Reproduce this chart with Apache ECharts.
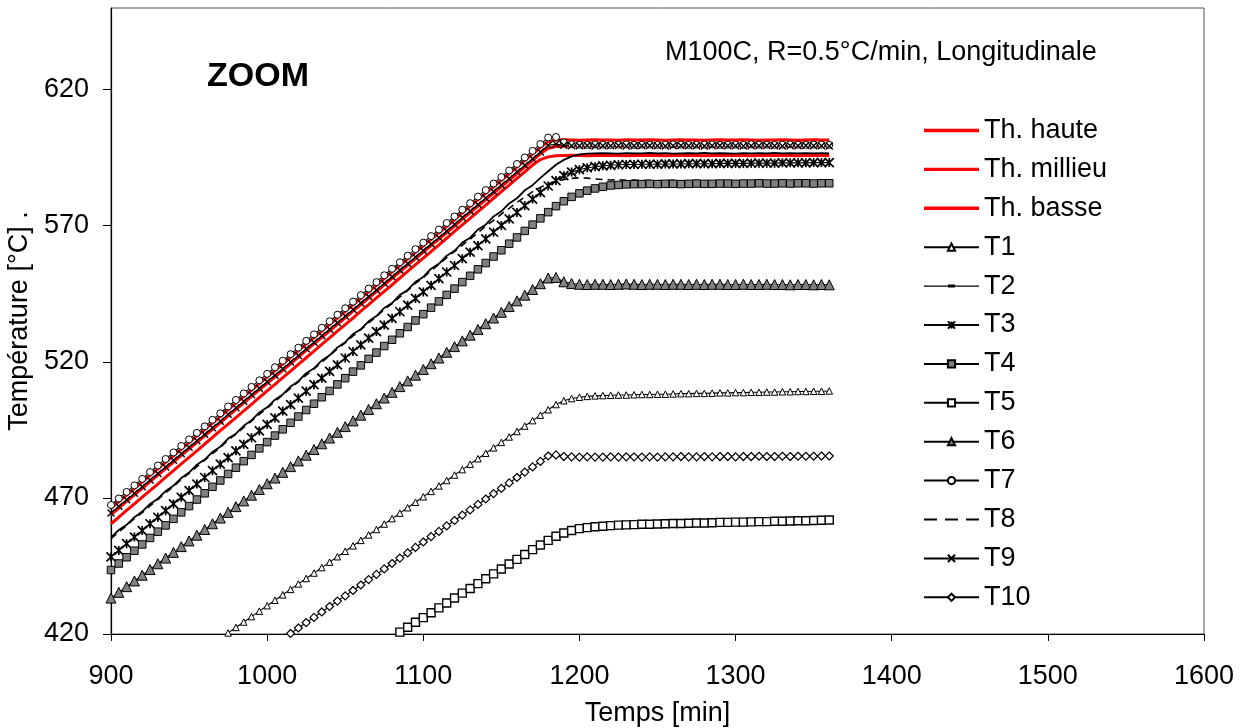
<!DOCTYPE html>
<html><head><meta charset="utf-8">
<script src="https://cdn.jsdelivr.net/npm/echarts@6/dist/echarts.min.js"></script>
<style>html,body{margin:0;padding:0;background:#fff}#c{width:1246px;height:728px}</style>
</head><body><div id="c"></div>
<script>
const times = [900,905,910,915,920,925,930,935,940,945,
950,955,960,965,970,975,980,985,990,995,
1000,1005,1010,1015,1020,1025,1030,1035,1040,1045,
1050,1055,1060,1065,1070,1075,1080,1085,1090,1095,
1100,1105,1110,1115,1120,1125,1130,1135,1140,1145,
1150,1155,1160,1165,1170,1175,1180,1185,1190,1195,
1200,1205,1210,1215,1220,1225,1230,1235,1240,1245,
1250,1255,1260,1265,1270,1275,1280,1285,1290,1295,
1300,1305,1310,1315,1320,1325,1330,1335,1340,1345,
1350,1355,1360];
const xTicks = [900,1000,1100,1200,1300,1400,1500,1600];
const yTicks = [420,470,520,570,620];

const thHaute = [466.2,468.6,471.0,473.4,475.8,478.3,480.7,483.1,485.5,487.9,
490.3,492.7,495.1,497.5,499.9,502.4,504.8,507.2,509.6,512.0,
514.4,516.8,519.2,521.6,524.0,526.5,528.9,531.3,533.7,536.1,
538.5,540.9,543.3,545.7,548.1,550.6,553.0,555.4,557.8,560.2,
562.6,565.0,567.4,569.8,572.2,574.7,577.1,579.5,581.9,584.3,
586.7,589.1,591.5,593.9,596.3,598.8,600.9,601.5,601.6,601.5,
601.4,601.5,601.6,601.5,601.5,601.4,601.6,601.5,601.5,601.6,
601.5,601.4,601.5,601.6,601.5,601.5,601.4,601.5,601.6,601.5,
601.5,601.6,601.5,601.4,601.5,601.5,601.6,601.5,601.4,601.5,
601.6,601.5,601.5];
const thMillieu = [463.9,466.3,468.7,471.1,473.5,476.0,478.4,480.8,483.2,485.6,
488.0,490.4,492.8,495.2,497.6,500.1,502.5,504.9,507.3,509.7,
512.1,514.5,516.9,519.3,521.7,524.2,526.6,529.0,531.4,533.8,
536.2,538.6,541.0,543.4,545.8,548.3,550.7,553.1,555.5,557.9,
560.3,562.7,565.1,567.5,569.9,572.4,574.8,577.2,579.6,582.0,
584.4,586.8,589.2,591.6,594.0,596.4,598.5,599.1,599.2,599.3,
599.3,599.2,599.3,599.4,599.3,599.3,599.2,599.3,599.4,599.3,
599.3,599.2,599.3,599.3,599.4,599.3,599.2,599.3,599.3,599.4,
599.3,599.3,599.2,599.3,599.4,599.3,599.3,599.2,599.3,599.3,
599.4,599.3,599.3];
const thBasse = [460.5,462.9,465.4,467.8,470.3,472.7,475.1,477.6,480.0,482.5,
484.9,487.3,489.8,492.2,494.7,497.1,499.5,502.0,504.4,506.9,
509.3,511.7,514.2,516.6,519.1,521.5,523.9,526.4,528.8,531.3,
533.7,536.1,538.6,541.0,543.5,545.9,548.3,550.8,553.2,555.7,
558.1,560.5,563.0,565.4,567.9,570.3,572.7,575.2,577.6,580.1,
582.5,584.9,587.4,589.8,592.3,594.3,595.3,595.7,595.8,595.9,
595.8,595.7,595.8,595.9,595.8,595.8,595.7,595.8,595.9,595.8,
595.8,595.7,595.8,595.8,595.9,595.8,595.7,595.8,595.8,595.9,
595.8,595.8,595.7,595.8,595.8,595.9,595.8,595.8,595.7,595.8,
595.8,595.9,595.8];
const t1 = [null,null,null,null,null,null,null,null,null,null,
null,null,null,null,418.4,420.4,422.4,424.4,426.4,428.4,
430.4,432.4,434.4,436.4,438.4,440.4,442.4,444.4,446.4,448.4,
450.4,452.4,454.4,456.4,458.4,460.4,462.4,464.4,466.4,468.4,
470.4,472.4,474.4,476.4,478.4,480.4,482.4,484.4,486.4,488.4,
490.4,492.4,494.4,496.4,498.4,500.4,502.4,504.3,505.7,506.5,
507.0,507.3,507.5,507.6,507.7,507.8,507.8,507.9,508.0,508.0,
508.1,508.1,508.2,508.3,508.3,508.4,508.4,508.5,508.6,508.6,
508.7,508.7,508.8,508.8,508.9,508.9,509.0,509.0,509.1,509.1,
509.2,509.2,509.3];
const t2 = [455.5,458.2,460.1,462.9,465.0,467.8,469.7,472.5,474.5,477.3,
479.3,482.2,484.1,486.9,488.8,491.8,493.6,496.5,498.5,501.4,
503.3,506.1,508.0,510.9,512.9,515.8,517.6,520.5,522.4,525.3,
527.2,530.2,532.0,534.9,536.8,539.8,541.6,544.6,546.4,549.4,
551.2,554.2,556.0,559.0,560.8,563.8,565.6,568.6,570.4,573.4,
575.3,578.2,580.1,583.0,584.9,587.6,590.0,592.4,594.2,595.5,
596.2,596.5,596.6,596.7,596.6,596.5,596.7,596.6,596.6,596.8,
596.6,596.7,596.5,596.6,596.7,596.6,596.8,596.6,596.7,596.6,
596.5,596.7,596.6,596.7,596.6,596.8,596.6,596.7,596.6,596.7,
596.6,596.7,596.6];
const t3 = [448.3,450.7,453.2,455.6,458.0,460.5,462.9,465.3,467.8,470.2,
472.7,475.1,477.5,480.0,482.4,484.8,487.3,489.7,492.1,494.6,
497.0,499.4,501.9,504.3,506.7,509.2,511.6,514.0,516.5,518.9,
521.4,523.8,526.2,528.7,531.1,533.5,536.0,538.4,540.8,543.3,
545.7,548.1,550.6,553.0,555.4,557.9,560.3,562.7,565.2,567.6,
570.1,572.5,574.9,577.4,579.8,582.2,584.6,586.6,588.4,589.7,
590.6,591.3,591.7,592.0,592.2,592.4,592.5,592.5,592.6,592.6,
592.6,592.7,592.7,592.7,592.8,592.8,592.8,592.8,592.9,592.9,
592.9,592.9,593.0,593.0,593.0,593.0,593.1,593.1,593.1,593.1,
593.2,593.2,593.2];
const t4 = [443.5,445.9,448.2,450.6,452.9,455.3,457.6,459.9,462.3,464.7,
467.0,469.4,471.7,474.1,476.4,478.8,481.1,483.5,485.8,488.2,
490.5,492.9,495.2,497.6,499.9,502.3,504.6,507.0,509.3,511.7,
514.0,516.4,518.7,521.1,523.4,525.8,528.1,530.5,532.8,535.2,
537.5,539.9,542.2,544.6,546.9,549.3,551.6,554.0,556.3,558.7,
561.0,563.4,565.7,568.1,570.4,572.7,575.0,577.2,579.0,580.6,
581.9,582.9,583.7,584.3,584.8,585.0,585.2,585.3,585.3,585.4,
585.3,585.4,585.4,585.3,585.4,585.5,585.4,585.4,585.5,585.5,
585.4,585.5,585.5,585.6,585.5,585.5,585.6,585.5,585.6,585.6,
585.5,585.6,585.6];
const t5 = [null,null,null,null,null,null,null,null,null,null,
null,null,null,null,null,null,null,null,null,null,
null,null,null,null,null,null,null,null,null,null,
null,null,null,null,null,null,418.9,420.7,422.5,424.3,
426.0,427.8,429.6,431.4,433.2,435.0,436.7,438.5,440.3,442.1,
443.9,445.7,447.4,449.2,451.0,452.7,454.4,455.9,457.1,458.0,
458.7,459.1,459.4,459.6,459.8,460.0,460.1,460.2,460.3,460.3,
460.4,460.5,460.6,460.6,460.7,460.8,460.8,460.9,461.0,461.0,
461.1,461.1,461.2,461.3,461.3,461.4,461.4,461.5,461.6,461.6,
461.7,461.8,461.9];
const t6 = [433.2,435.3,437.4,439.5,441.6,443.7,445.8,447.9,450.0,452.1,
454.2,456.3,458.4,460.5,462.6,464.7,466.8,468.9,471.0,473.1,
475.2,477.3,479.4,481.5,483.6,485.7,487.8,489.9,492.0,494.1,
496.2,498.3,500.4,502.5,504.6,506.7,508.8,510.9,513.0,515.1,
517.2,519.3,521.4,523.5,525.6,527.7,529.8,531.9,534.0,536.1,
538.2,540.3,542.4,544.5,546.6,548.7,550.8,551.0,549.4,548.8,
548.5,548.4,548.5,548.5,548.4,548.5,548.6,548.5,548.4,548.5,
548.5,548.4,548.5,548.5,548.4,548.5,548.4,548.5,548.5,548.4,
548.4,548.5,548.4,548.4,548.5,548.4,548.4,548.3,548.4,548.4,
548.3,548.4,548.3];
const t7 = [467.4,469.8,472.2,474.6,477.0,479.5,481.9,484.3,486.7,489.1,
491.5,493.9,496.3,498.7,501.1,503.6,506.0,508.4,510.8,513.2,
515.6,518.0,520.4,522.8,525.2,527.7,530.1,532.5,534.9,537.3,
539.7,542.1,544.5,546.9,549.3,551.8,554.2,556.6,559.0,561.4,
563.8,566.2,568.6,571.0,573.4,575.9,578.3,580.7,583.1,585.5,
587.9,590.3,592.7,595.1,597.5,600.0,602.4,602.6,600.6,599.9,
599.8,599.7,599.9,599.8,599.7,599.8,599.9,599.7,599.8,599.8,
599.7,599.8,599.9,599.8,599.7,599.8,599.8,599.9,599.7,599.8,
599.8,599.7,599.9,599.8,599.8,599.7,599.8,599.9,599.8,599.7,
599.8,599.8,599.7];
const t8 = [455.0,457.6,459.8,462.4,464.6,467.1,469.4,471.9,474.2,476.8,
479.0,481.5,483.8,486.3,488.6,491.2,493.4,495.9,498.2,500.7,
503.0,505.5,507.8,510.3,512.6,515.1,517.4,519.9,522.2,524.8,
527.0,529.5,531.8,534.3,536.6,539.2,541.4,543.9,546.2,548.8,
551.0,553.5,555.8,558.3,560.5,562.9,565.1,567.4,569.9,572.0,
574.3,576.4,578.6,580.5,582.5,584.1,585.4,586.3,587.0,587.4,
587.6,587.5,587.2,587.0,586.8,586.9,586.7,586.8,586.6,586.7,
586.5,586.6,586.7,586.5,586.4,586.6,586.5,586.4,586.5,586.3,
586.4,586.5,586.3,586.4,586.2,586.4,586.3,586.2,586.3,586.2,
586.3,586.2,586.2];
const t9 = [464.5,466.9,469.3,471.7,474.1,476.6,479.0,481.4,483.8,486.2,
488.6,491.0,493.4,495.8,498.2,500.7,503.1,505.5,507.9,510.3,
512.7,515.1,517.5,519.9,522.3,524.8,527.2,529.6,532.0,534.4,
536.8,539.2,541.6,544.0,546.4,548.9,551.3,553.7,556.1,558.5,
560.9,563.3,565.7,568.1,570.5,573.0,575.4,577.8,580.2,582.6,
585.0,587.4,589.8,592.2,594.6,597.1,599.6,600.0,599.6,599.4,
599.4,599.5,599.3,599.4,599.4,599.5,599.3,599.4,599.4,599.5,
599.4,599.3,599.4,599.5,599.4,599.4,599.3,599.4,599.5,599.4,
599.4,599.3,599.4,599.4,599.5,599.4,599.3,599.4,599.4,599.5,
599.4,599.4,599.3];
const t10 = [null,null,null,null,null,null,null,null,null,null,
null,null,null,null,null,null,null,null,null,null,
null,null,418.2,420.2,422.2,424.2,426.1,428.1,430.1,432.1,
434.0,436.0,438.0,440.0,441.9,443.9,445.9,447.9,449.8,451.8,
453.8,455.8,457.7,459.7,461.7,463.7,465.6,467.6,469.6,471.6,
473.5,475.5,477.5,479.5,481.4,483.4,485.4,485.8,485.2,485.1,
485.0,485.1,485.0,485.0,485.1,485.0,485.1,485.1,485.0,485.1,
485.0,485.1,485.1,485.2,485.1,485.1,485.2,485.1,485.2,485.2,
485.1,485.2,485.2,485.3,485.2,485.2,485.3,485.2,485.3,485.3,
485.3,485.4,485.4];

const FONT = '"Liberation Sans", Arial, sans-serif';
const FS = 27;

function pairs(vals) {
  const out = [];
  for (let i = 0; i < vals.length && i < times.length; i++) {
    if (vals[i] !== null) out.push([times[i], vals[i]]);
  }
  return out;
}
const ASTER = 'path://M0,0L10,10M10,0L0,10M5,0L5,10';
const XMARK = 'path://M0,0L10,10M10,0L0,10';

function red(name, vals) {
  return { name, type: 'line', data: pairs(vals), symbol: 'none', clip: true,
    lineStyle: { color: '#ff0000', width: 3 }, itemStyle: { color: '#ff0000', borderWidth: 0 } };
}
function blk(name, vals, symbol, size, fill, opts) {
  opts = opts || {};
  return { name, type: 'line', data: pairs(vals), clip: true,
    symbol: symbol, symbolSize: size, showSymbol: symbol !== 'none',
    lineStyle: { color: '#000', width: opts.lw || 1.1, type: opts.dash ? [7, 5] : 'solid' },
    itemStyle: { color: fill, borderColor: '#000', borderWidth: opts.bw === undefined ? 1 : opts.bw } };
}

const series = [
  red('Th. haute', thHaute),
  red('Th. millieu', thMillieu),
  red('Th. basse', thBasse),
  blk('T1', t1, 'triangle', 6.5, '#fff'),
  blk('T2', t2, 'none', 0, '#000', { lw: 1.8, bw: 0 }),
  blk('T3', t3, ASTER, 9, '#000', { bw: 1.7 }),
  blk('T4', t4, 'rect', 7.5, '#808080'),
  blk('T5', t5, 'rect', 8, '#fff', { bw: 1.4 }),
  blk('T6', t6, 'triangle', 10, '#808080'),
  blk('T7', t7, 'circle', 7, '#fff'),
  blk('T8', t8, 'none', 0, '#000', { lw: 1.6, dash: true, bw: 0 }),
  blk('T9', t9, XMARK, 7, '#000', { bw: 1.4 }),
  blk('T10', t10, 'diamond', 8, '#fff', { bw: 1.2 })
];

const legendData = series.map(s => {
  if (s.name.indexOf('Th.') === 0) return { name: s.name, icon: 'path://M0,0L55,0L55,3.4L0,3.4Z', itemStyle: { borderWidth: 0 } };
  if (s.name === 'T2') return { name: s.name, icon: 'path://M0,0.8L55,0.8L55,2.2L0,2.2Z M24,0L31,0L31,3L24,3Z', itemStyle: { borderWidth: 0 } };
  if (s.name === 'T8') return { name: s.name, icon: 'path://M0,0L13,0L13,2L0,2Z M21,0L34,0L34,2L21,2Z M42,0L55,0L55,2L42,2Z', itemStyle: { borderWidth: 0 } };
  return { name: s.name };
});

const chart = echarts.init(document.getElementById('c'), null, { renderer: 'canvas' });
chart.setOption({
  animation: false,
  backgroundColor: '#fff',
  textStyle: { fontFamily: FONT, color: '#000' },
  grid: { left: 111, right: 42, top: 8, bottom: 94, show: true, borderColor: '#555', borderWidth: 1,
    backgroundColor: 'transparent', containLabel: false, outerBoundsMode: 'none' },
  xAxis: {
    type: 'value', min: xTicks[0], max: xTicks[xTicks.length - 1], interval: 100,
    name: 'Temps [min]', nameLocation: 'middle', nameGap: 66,
    nameTextStyle: { fontSize: FS, color: '#000', fontFamily: FONT },
    axisLine: { lineStyle: { color: '#000', width: 1.2 } },
    axisTick: { inside: false, length: 7, lineStyle: { color: '#000' } },
    axisLabel: { fontSize: FS, color: '#000', margin: 29, fontFamily: FONT, formatter: v => String(v) },
    splitLine: { show: false }
  },
  yAxis: {
    type: 'value', min: 420, max: 650,
    name: 'Température [°C] .', nameLocation: 'middle', nameGap: 72,
    nameTextStyle: { fontSize: FS, color: '#000', fontFamily: FONT },
    axisLine: { show: true, lineStyle: { color: '#000', width: 1.2 } },
    axisTick: { show: true, inside: false, length: 8, customValues: yTicks, lineStyle: { color: '#000' } },
    axisLabel: { fontSize: FS, color: '#000', margin: 22, customValues: yTicks, fontFamily: FONT, formatter: v => String(v) },
    splitLine: { show: false }
  },
  legend: {
    orient: 'vertical', left: 923, top: 117, padding: 0,
    itemWidth: 55, itemHeight: 9, itemGap: 11.9,
    textStyle: { fontSize: FS, color: '#000', fontFamily: FONT, lineHeight: 27 },
    data: legendData, selectedMode: false
  },
  graphic: [
    { type: 'text', left: 207, top: 60, style: { text: 'ZOOM', font: 'bold 34px ' + FONT, fill: '#000' } },
    { type: 'text', left: 665, top: 39, style: { text: 'M100C, R=0.5°C/min, Longitudinale', font: FS + 'px ' + FONT, fill: '#000' } }
  ],
  series: series.map(s => Object.assign(s, { emphasis: { disabled: true }, silent: true }))
});
</script>
</body></html>
